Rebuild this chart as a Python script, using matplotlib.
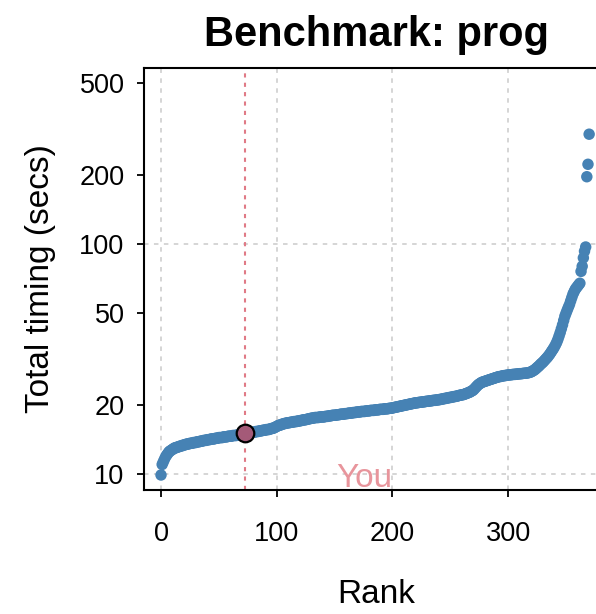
import matplotlib
matplotlib.use("Agg")
import matplotlib.pyplot as plt
import numpy as np

plt.rcParams['font.family'] = ['Liberation Sans', 'DejaVu Sans']

# Total timing (secs) for every submission, sorted; rank = position in list
timings = [
    9.9, 11.0, 11.3, 11.6, 11.9, 12.1, 12.3, 12.5, 12.6, 12.7,
    12.8, 12.9, 13.0, 13.0, 13.1, 13.1, 13.2, 13.2, 13.3, 13.3,
    13.4, 13.4, 13.5, 13.5, 13.5, 13.6, 13.6, 13.6, 13.7, 13.7,
    13.7, 13.8, 13.8, 13.8, 13.9, 13.9, 13.9, 14.0, 14.0, 14.0,
    14.1, 14.1, 14.1, 14.2, 14.2, 14.2, 14.2, 14.3, 14.3, 14.3,
    14.4, 14.4, 14.4, 14.4, 14.5, 14.5, 14.5, 14.5, 14.6, 14.6,
    14.6, 14.6, 14.7, 14.7, 14.7, 14.7, 14.8, 14.8, 14.8, 14.8,
    14.9, 14.9, 14.9, 15.0, 15.0, 15.0, 15.1, 15.1, 15.1, 15.2,
    15.2, 15.2, 15.3, 15.3, 15.3, 15.4, 15.4, 15.4, 15.5, 15.5,
    15.5, 15.6, 15.6, 15.6, 15.7, 15.7, 15.8, 15.8, 15.9, 16.0,
    16.1, 16.2, 16.3, 16.3, 16.4, 16.5, 16.5, 16.6, 16.6, 16.7,
    16.7, 16.7, 16.8, 16.8, 16.8, 16.9, 16.9, 16.9, 17.0, 17.0,
    17.0, 17.1, 17.1, 17.2, 17.2, 17.2, 17.3, 17.3, 17.4, 17.4,
    17.5, 17.5, 17.5, 17.6, 17.6, 17.6, 17.6, 17.7, 17.7, 17.7,
    17.7, 17.7, 17.8, 17.8, 17.8, 17.9, 17.9, 17.9, 18.0, 18.0,
    18.0, 18.0, 18.1, 18.1, 18.1, 18.2, 18.2, 18.2, 18.2, 18.3,
    18.3, 18.3, 18.4, 18.4, 18.4, 18.4, 18.5, 18.5, 18.5, 18.6,
    18.6, 18.6, 18.6, 18.7, 18.7, 18.7, 18.7, 18.8, 18.8, 18.8,
    18.8, 18.9, 18.9, 18.9, 18.9, 19.0, 19.0, 19.0, 19.0, 19.1,
    19.1, 19.1, 19.1, 19.2, 19.2, 19.2, 19.2, 19.3, 19.3, 19.3,
    19.4, 19.4, 19.5, 19.5, 19.6, 19.6, 19.7, 19.7, 19.8, 19.8,
    19.9, 19.9, 20.0, 20.0, 20.1, 20.1, 20.2, 20.2, 20.3, 20.3,
    20.4, 20.4, 20.4, 20.5, 20.5, 20.5, 20.6, 20.6, 20.6, 20.7,
    20.7, 20.7, 20.8, 20.8, 20.8, 20.9, 20.9, 20.9, 21.0, 21.0,
    21.0, 21.1, 21.1, 21.2, 21.2, 21.3, 21.3, 21.4, 21.4, 21.5,
    21.5, 21.6, 21.6, 21.7, 21.7, 21.8, 21.8, 21.9, 22.0, 22.0,
    22.1, 22.1, 22.2, 22.3, 22.4, 22.5, 22.6, 22.7, 22.9, 23.0,
    23.2, 23.5, 23.8, 24.1, 24.4, 24.6, 24.8, 25.0, 25.1, 25.2,
    25.3, 25.4, 25.5, 25.6, 25.7, 25.8, 25.9, 26.0, 26.1, 26.2,
    26.3, 26.4, 26.5, 26.5, 26.6, 26.7, 26.7, 26.8, 26.8, 26.9,
    26.9, 27.0, 27.0, 27.0, 27.1, 27.1, 27.1, 27.2, 27.2, 27.2,
    27.3, 27.3, 27.3, 27.4, 27.4, 27.4, 27.5, 27.5, 27.6, 27.7,
    27.8, 28.0, 28.2, 28.4, 28.7, 29.0, 29.3, 29.6, 30.0, 30.3,
    30.6, 31.0, 31.4, 31.8, 32.2, 32.7, 33.2, 33.8, 34.4, 35.0,
    35.7, 36.5, 37.4, 38.5, 39.8, 41.2, 42.8, 44.5, 46.5, 48.5,
    50.0, 51.5, 53.0, 54.5, 56.5, 58.5, 60.5, 62.0, 63.5, 64.5,
    65.5, 66.5, 67.5, 76.0, 80.0, 87.0, 93.0, 97.0,
    196.0, 222.0, 300.0,
]
ranks = np.arange(len(timings))

you_rank = 73
you_timing = 15.0

title = "Benchmark: prog"
xticks = [0, 100, 200, 300]
yticks = [10, 20, 50, 100, 200, 500]
ygrid = [10, 100]

fig = plt.figure(figsize=(5.96, 6.14), dpi=100)
# axes runs a little past the right edge of the figure, as in the original
ax = fig.add_axes([144 / 596, 124 / 614, 464 / 596, 422 / 614])

for x in xticks:
    ax.axvline(x, color='#d2d2d2', linestyle=(0, (2.5, 3)), linewidth=1.3, zorder=0)
for y in ygrid:
    ax.axhline(y, color='#d2d2d2', linestyle=(0, (2.5, 3)), linewidth=1.3, zorder=0)

ax.axvline(you_rank, color='#e07a86', linestyle=(0, (2, 2.5)), linewidth=1.5, zorder=1)

ax.scatter(ranks, timings, s=68, color='#4682b4', edgecolors='none', zorder=2)
ax.scatter([you_rank], [you_timing], s=160, color='#a45a78', edgecolors='black',
           linewidths=1.6, zorder=3)

ax.text(176, 8.8, "You", color='#e8959c', fontsize=24, ha='center', va='baseline', zorder=1)

ax.set_yscale('log')
ax.set_xlim(-14.7, 386.3)
ax.set_ylim(8.52, 582)
ax.set_xticks(xticks)
ax.set_yticks(yticks)
ax.set_yticklabels([str(v) for v in yticks])
ax.yaxis.set_minor_locator(matplotlib.ticker.NullLocator())

ax.tick_params(axis='both', labelsize=19.5, length=5, width=1.3, direction='out')
ax.tick_params(axis='y', pad=9)
ax.tick_params(axis='x', pad=17)
for sp in ax.spines.values():
    sp.set_linewidth(1.5)

ax.set_title(title, fontsize=30, fontweight='bold', pad=16)
ax.set_xlabel("Rank", fontsize=24)
ax.set_ylabel("Total timing (secs)", fontsize=24)
ax.xaxis.set_label_coords(0.5, -0.212)
ax.yaxis.set_label_coords(-0.19, 0.5)

fig.savefig('out.png', dpi=100)
